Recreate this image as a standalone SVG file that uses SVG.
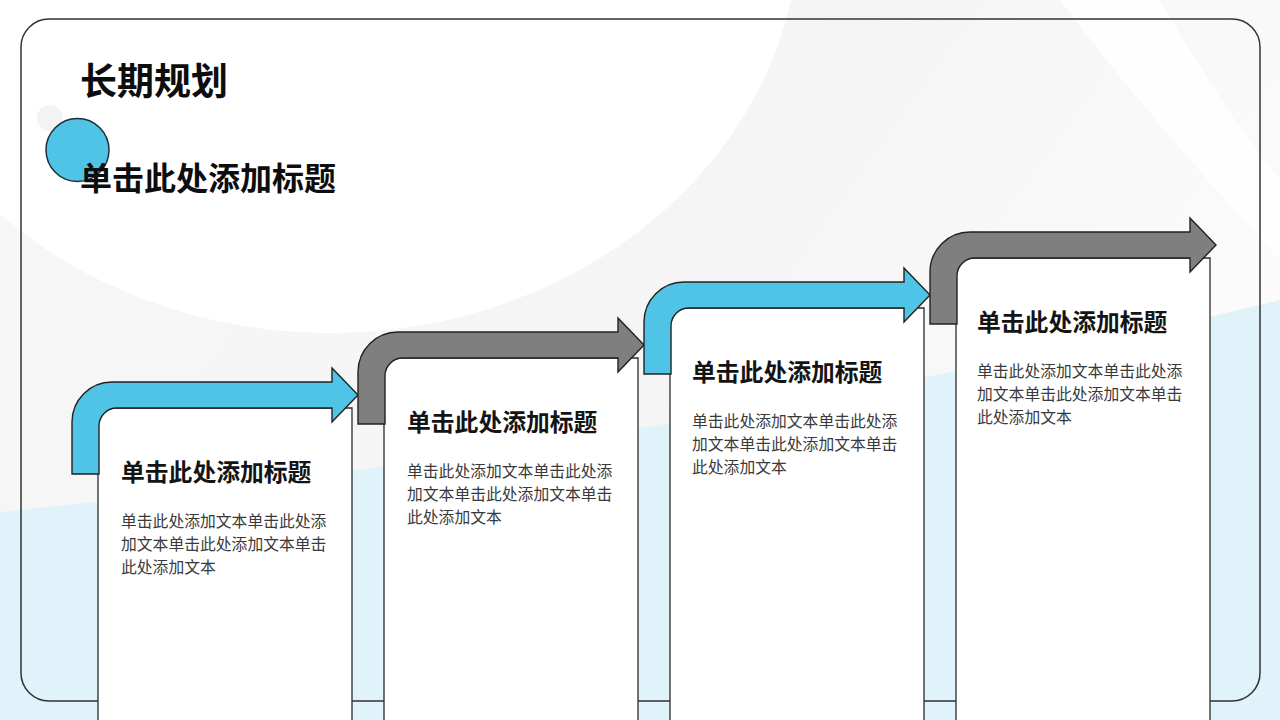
<svg xmlns="http://www.w3.org/2000/svg" width="1280" height="720" viewBox="0 0 1280 720">
  <defs>
    <style>
      .cjk { font-family: "Noto Sans CJK SC", "Noto Sans", sans-serif; }
      .h1 { font-size: 37px; font-weight: 700; fill: #0d0d0d; }
      .h2 { font-size: 32px; font-weight: 700; fill: #0d0d0d; }
      .ct { font-size: 23.8px; font-weight: 700; fill: #141414; }
      .cb { font-size: 15.8px; font-weight: 400; fill: #3a3a3a; }
      .card { fill: #ffffff; stroke: #2b2b2b; stroke-width: 1.3; }
      .arr { stroke: #222; stroke-width: 1.4; stroke-linejoin: miter; }
      .blue { fill: #50c4e6; }
      .gray { fill: #7f7f7f; }
    </style>
    <linearGradient id="tint" x1="0" y1="0" x2="1" y2="0.4">
      <stop offset="0" stop-color="#f7f7f8"/>
      <stop offset="0.6" stop-color="#f5f5f6"/>
      <stop offset="1" stop-color="#fbfbfb"/>
    </linearGradient>
  </defs>

  <g id="background">
    <rect x="0" y="0" width="1280" height="720" fill="url(#tint)"/>
    <ellipse cx="330" cy="-80" rx="470" ry="413" fill="#ffffff"/>
    <path d="M1060,0 L1160,0 Q1230,120 1280,180 L1280,260 Q1150,120 1060,0 Z" fill="#ffffff" opacity="0.8"/>
    <path d="M0,512 Q700,440 1280,300 L1280,720 L0,720 Z" fill="#e0f3fa"/>
    <circle cx="50" cy="118" r="13" fill="#f3f3f3"/>
  </g>

  <rect id="frame" x="21" y="19" width="1239" height="682" rx="28" ry="28" fill="none" stroke="#333" stroke-width="1.5"/>

  <g id="header">
    <circle cx="77.5" cy="150" r="31.5" fill="#50c4e6" stroke="#1f2f3a" stroke-width="1.5"/>
    <text class="cjk h1" x="80" y="95">长期规划</text>
    <text class="cjk h2" x="80" y="190">单击此处添加标题</text>
  </g>

  <g id="step1">
    <path class="card" d="M98,724 L98,426 Q98,408 116,408 L352,408 L352,724 Z"/>
    <text class="cjk ct" x="121" y="481">单击此处添加标题</text>
    <text class="cjk cb" x="121" y="527">单击此处添加文本单击此处添</text>
    <text class="cjk cb" x="121" y="550">加文本单击此处添加文本单击</text>
    <text class="cjk cb" x="121" y="573">此处添加文本</text>
  </g>

  <g id="step2">
    <path class="card" d="M384,724 L384,376 Q384,358 402,358 L638,358 L638,724 Z"/>
    <text class="cjk ct" x="407" y="431">单击此处添加标题</text>
    <text class="cjk cb" x="407" y="477">单击此处添加文本单击此处添</text>
    <text class="cjk cb" x="407" y="500">加文本单击此处添加文本单击</text>
    <text class="cjk cb" x="407" y="523">此处添加文本</text>
  </g>

  <g id="step3">
    <path class="card" d="M670,724 L670,326 Q670,308 688,308 L924,308 L924,724 Z"/>
    <text class="cjk ct" x="692" y="381">单击此处添加标题</text>
    <text class="cjk cb" x="692" y="427">单击此处添加文本单击此处添</text>
    <text class="cjk cb" x="692" y="450">加文本单击此处添加文本单击</text>
    <text class="cjk cb" x="692" y="473">此处添加文本</text>
  </g>

  <g id="step4">
    <path class="card" d="M956,724 L956,276 Q956,258 974,258 L1210,258 L1210,724 Z"/>
    <text class="cjk ct" x="977" y="331">单击此处添加标题</text>
    <text class="cjk cb" x="977" y="377">单击此处添加文本单击此处添</text>
    <text class="cjk cb" x="977" y="400">加文本单击此处添加文本单击</text>
    <text class="cjk cb" x="977" y="423">此处添加文本</text>
  </g>

  <g id="connectors">
    <path class="arr blue" d="M72,474 L72,422 A40,40 0 0 1 112,382 L332,382 L332,368 L358,395 L332,422 L332,408 L117,408 A18,18 0 0 0 99,426 L99,474 Z"/>
    <path class="arr gray" transform="translate(286,-50)" d="M72,474 L72,422 A40,40 0 0 1 112,382 L332,382 L332,368 L358,395 L332,422 L332,408 L117,408 A18,18 0 0 0 99,426 L99,474 Z"/>
    <path class="arr blue" transform="translate(572,-100)" d="M72,474 L72,422 A40,40 0 0 1 112,382 L332,382 L332,368 L358,395 L332,422 L332,408 L117,408 A18,18 0 0 0 99,426 L99,474 Z"/>
    <path class="arr gray" transform="translate(858,-150)" d="M72,474 L72,422 A40,40 0 0 1 112,382 L332,382 L332,368 L358,395 L332,422 L332,408 L117,408 A18,18 0 0 0 99,426 L99,474 Z"/>
  </g>
</svg>
